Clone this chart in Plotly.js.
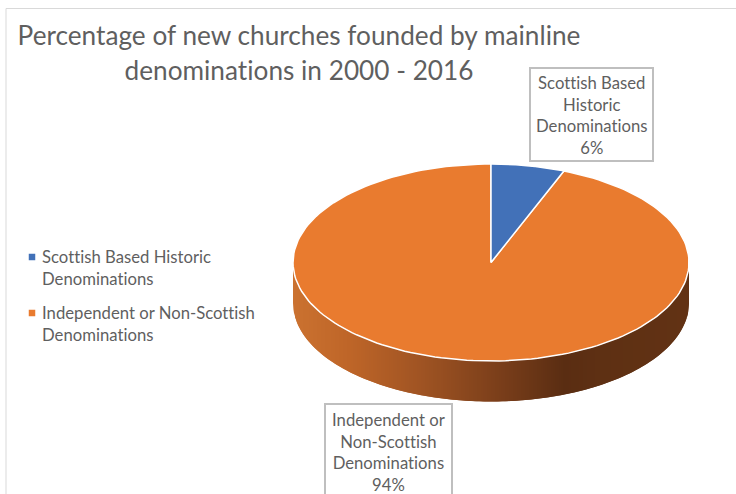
<!DOCTYPE html>
<html>
<head>
<meta charset="utf-8">
<script src="https://cdn.plot.ly/plotly-3.0.1.min.js"></script>
<style>html,body{margin:0;padding:0;background:#fff;overflow:hidden}#chart{width:736px;height:494px}svg text{font-variant-ligatures:none;font-feature-settings:"liga" 0,"clig" 0,"dlig" 0;letter-spacing:0.01px}</style>
</head>
<body>
<div id="chart"></div>
<script>
// Source figures
const categories = ['Scottish Based Historic Denominations', 'Independent or Non-Scottish Denominations'];
const shares = [6, 94];
const sliceColors = ['#4271B8', '#E97B2F'];
const chartTitle = 'Percentage of new churches founded by mainline<br>denominations in 2000 - 2016';
const legendLines = ['Scottish Based Historic<br>Denominations', 'Independent or Non-Scottish<br>Denominations'];
const labelLines = ['Scottish Based<br>Historic<br>Denominations', 'Independent or<br>Non-Scottish<br>Denominations'];

// Disc geometry in page-sized axis units
const cx = 491, cy = 262.5, rx = 198, ry = 98.5, depth = 40.5;
const textColor = '#5f5f5f';
const fontFamily = 'Lato, "Open Sans", sans-serif';

const total = shares.reduce((a, b) => a + b, 0);
const rad = d => d * Math.PI / 180;
const rimX = t => cx + rx * Math.sin(rad(t));
const rimY = t => cy - ry * Math.cos(rad(t));

// Shading of the rim, left to right across the disc
const rimStops = [[293,[203,114,48]],[350,[190,101,40]],[420,[160,84,35]],[500,[122,62,26]],[565,[90,45,18]],[600,[94,48,19]],[689,[98,50,20]]];
function rimColor(x) {
  for (let i = 1; i < rimStops.length; i++) {
    if (x <= rimStops[i][0]) {
      const [x0, c0] = rimStops[i - 1], [x1, c1] = rimStops[i];
      const f = Math.max(0, (x - x0) / (x1 - x0));
      return 'rgb(' + c0.map((c, k) => Math.round(c + (c1[k] - c) * f)).join(',') + ')';
    }
  }
  return 'rgb(98,50,20)';
}

const traces = [];

// Rim: slices even in x across the front half, each one overlapping the next
// so that no seams show between them
const stripWidth = 2;
const angleAt = x => 180 + (180 / Math.PI) * Math.asin(Math.min(1, Math.max(-1, (cx - x) / rx)));
for (let x = cx - rx; x < cx + rx; x += stripWidth) {
  const t0 = angleAt(x), t1 = angleAt(Math.min(cx + rx, x + stripWidth * 2));
  const top = [], bottom = [];
  for (let k = 0; k <= 6; k++) {
    const t = t0 + (t1 - t0) * k / 6;
    top.push([rimX(t), rimY(t)]);
    bottom.unshift([rimX(t), rimY(t) + depth]);
  }
  const outline = top.concat(bottom);
  outline.push(outline[0]);
  traces.push({
    type: 'scatter', mode: 'lines', fill: 'toself', fillcolor: rimColor(x + stripWidth / 2),
    line: {width: 0}, hoverinfo: 'skip', showlegend: false,
    x: outline.map(p => p[0]), y: outline.map(p => p[1])
  });
}

// Top face: one wedge per category, largest drawn first
let start = 0;
const wedges = shares.map((v, i) => {
  const sweep = 360 * v / total, xs = [cx], ys = [cy];
  for (let k = 0; k <= 180; k++) {
    const t = start + sweep * k / 180;
    xs.push(rimX(t)); ys.push(rimY(t));
  }
  xs.push(cx); ys.push(cy);
  start += sweep;
  return {
    type: 'scatter', mode: 'lines', fill: 'toself', fillcolor: sliceColors[i],
    line: {color: '#ffffff', width: 1.5}, name: categories[i],
    text: categories[i] + ': ' + v + '%', hoverinfo: 'text', showlegend: false, x: xs, y: ys
  };
});
traces.push(wedges[1], wedges[0]);

// Legend keys
traces.push({
  type: 'scatter', mode: 'markers', x: [32, 32], y: [257, 313], hoverinfo: 'skip', showlegend: false,
  marker: {symbol: 'square', size: 6.5, color: sliceColors}
});

const labelBoxes = [
  {x0: 530, x1: 653, y0: 68, y1: 161},
  {x0: 325, x1: 452, y0: 404, y1: 520}
];
const labelCenterY = [115, 452];

const annotations = [];
legendLines.forEach((t, i) => annotations.push({
  xref: 'x', yref: 'y', x: 39.5, y: [268, 323.5][i], xanchor: 'left', yanchor: 'middle', align: 'left',
  showarrow: false, text: t, font: {family: fontFamily, size: 16.7, color: textColor}
}));
labelLines.forEach((t, i) => annotations.push({
  xref: 'x', yref: 'y', x: (labelBoxes[i].x0 + labelBoxes[i].x1) / 2, y: labelCenterY[i],
  xanchor: 'center', yanchor: 'middle', align: 'center', showarrow: false,
  text: t + '<br>' + shares[i] + '%', font: {family: fontFamily, size: 16.7, color: textColor}
}));

const shapes = [
  {type: 'line', xref: 'x', yref: 'y', x0: 6, x1: 736, y0: 8.5, y1: 8.5, line: {color: '#d9d9d9', width: 1}},
  {type: 'line', xref: 'x', yref: 'y', x0: 6, x1: 6, y0: 8.5, y1: 494, line: {color: '#d9d9d9', width: 1}}
].concat(labelBoxes.map(b => ({
  type: 'rect', xref: 'x', yref: 'y', x0: b.x0, x1: b.x1, y0: b.y0, y1: b.y1, layer: 'below',
  fillcolor: '#ffffff', line: {color: '#bfbfbf', width: 2}
})));

Plotly.newPlot('chart', traces, {
  width: 736, height: 494,
  margin: {l: 0, r: 0, t: 0, b: 0},
  paper_bgcolor: '#ffffff', plot_bgcolor: '#ffffff',
  showlegend: false,
  title: {
    text: chartTitle, x: 299 / 736, xanchor: 'center', y: 0.908, yanchor: 'top', yref: 'container',
    font: {family: fontFamily, size: 26.2, color: textColor}
  },
  xaxis: {range: [0, 736], visible: false, fixedrange: true},
  yaxis: {range: [494, 0], visible: false, fixedrange: true},
  annotations: annotations,
  shapes: shapes
}, {displayModeBar: false});
</script>
</body>
</html>
